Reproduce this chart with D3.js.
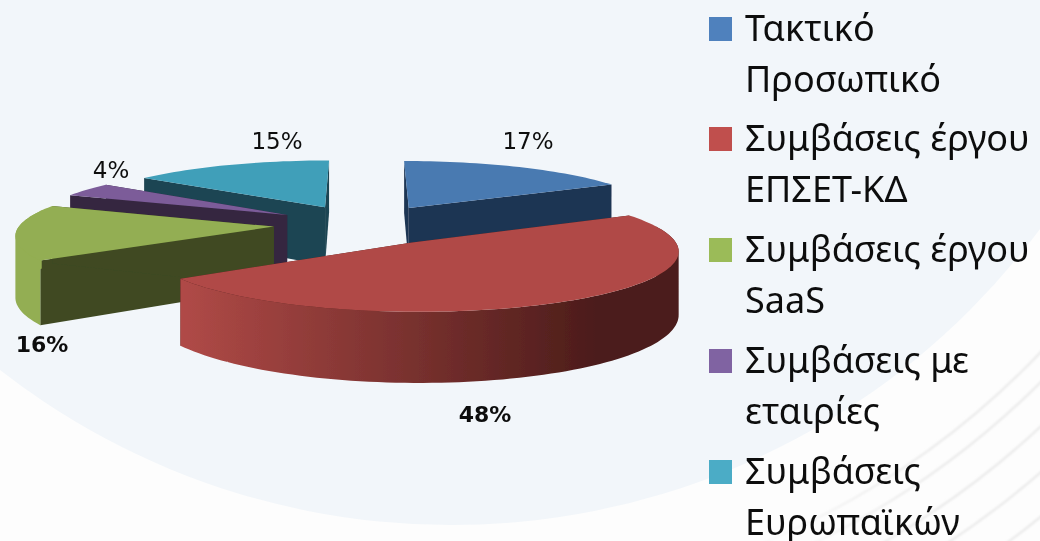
<!DOCTYPE html>
<html><head><meta charset="utf-8">
<script src="https://cdnjs.cloudflare.com/ajax/libs/d3/7.8.5/d3.min.js"></script>
<style>html,body{margin:0;padding:0;background:#fdfdfd;overflow:hidden}svg{display:block}</style>
</head><body><svg id="c" width="1040" height="541"></svg>
<script>
const legendLines = [["Τακτικό","Προσωπικό"],["Συμβάσεις έργου","ΕΠΣΕΤ-ΚΔ"],["Συμβάσεις έργου","SaaS"],["Συμβάσεις με","εταιρίες"],["Συμβάσεις","Ευρωπαϊκών"]];
const values = [17.2,48.4,15.6,4,14.8];
const topColors = ["#4a7ab1","#b04a47","#93ae52","#7b5c99","#419fb9"];
const wallColors = ["#1f3552","#4c1d1b","#3f4a22","#35263f","#1c4452"];
const legendColors = ["#4f81bd","#c0504d","#9bbb59","#8064a2","#4bacc6"];

const svg = d3.select("#c");
const defs = svg.append("defs");
defs.append("filter").attr("id","soft").append("feGaussianBlur").attr("stdDeviation",0.55);
defs.append("filter").attr("id","soft2").attr("filterUnits","userSpaceOnUse").attr("x",0).attr("y",0).attr("width",1040).attr("height",541).append("feGaussianBlur").attr("stdDeviation",0.9);
const g1 = defs.append("linearGradient").attr("id","redWall").attr("gradientUnits","userSpaceOnUse").attr("x1",180).attr("x2",600).attr("y1",0).attr("y2",0);
g1.append("stop").attr("offset",0).attr("stop-color","#b04a47");
g1.append("stop").attr("offset",1).attr("stop-color","#4b1c1a");
const g2 = defs.append("linearGradient").attr("id","stripe").attr("gradientUnits","userSpaceOnUse").attr("x1",720).attr("x2",940).attr("y1",0).attr("y2",0);
g2.append("stop").attr("offset",0).attr("stop-color","#e8e8e8").attr("stop-opacity",0);
g2.append("stop").attr("offset",1).attr("stop-color","#e8e8e8").attr("stop-opacity",1);

// backdrop
const bgC=[451,-209], bgR=734, stripeR=[814,835,867,901,935];
const st=svg.append("g").attr("filter","url(#soft2)");
stripeR.forEach(r=>st.append("circle").attr("cx",bgC[0]).attr("cy",bgC[1]).attr("r",r).attr("fill","none").attr("stroke","url(#stripe)").attr("stroke-width",2));
svg.append("circle").attr("cx",bgC[0]).attr("cy",bgC[1]).attr("r",bgR).attr("fill","#f2f6fa");

// perspective projection of the pie plane
const cx=364, cy=224.6, Rx=254, Ry=56.4, p=0.12, H=60, explode=0.355;
const proj=(X,Y,down)=>{const w=1+p*Y;return [cx+Rx*X/w, cy-Ry*Y/w+(down?H/w:0)];};
const line=d3.line();
const arcs=d3.pie().sort(null).value(d=>d)(values);
const slices=arcs.map((a,i)=>{
  const mid=(a.startAngle+a.endAngle)/2;
  const ox=explode*Math.sin(mid), oy=explode*Math.cos(mid);
  const n=Math.max(4,Math.round((a.endAngle-a.startAngle)/0.03));
  const ts=d3.range(n+1).map(k=>a.startAngle+(a.endAngle-a.startAngle)*k/n);
  const pts=ts.map(t=>[ox+Math.sin(t),oy+Math.cos(t)]);
  const front=ts.filter(t=>Math.cos(t)<=0.3).map(t=>[ox+Math.sin(t),oy+Math.cos(t)]);
  return {i,ox,oy,pts,front};
});
const order=[4,0,3,2,1];
const chart=svg.append("g").attr("filter","url(#soft)");
order.forEach(i=>{
  const s=slices[i], g=chart.append("g");
  const T=q=>proj(q[0],q[1],false), B=q=>proj(q[0],q[1],true);
  const apex=[s.ox,s.oy], first=s.pts[0], last=s.pts[s.pts.length-1];
  [first,last].forEach(e=>{
    g.append("path").attr("d",line([T(apex),T(e),B(e),B(apex)])+"Z").attr("fill",wallColors[i]);
  });
  if(i===1||i===2){
    const fill=i===1?"url(#redWall)":topColors[i];
    // outer wall: union of same-wound quads, swept between the top and bottom rims
    const d=d3.pairs(s.front).map(([a,b])=>{
      const q=[T(a),T(b),B(b),B(a)];
      if(d3.polygonArea(q)<0) q.reverse();
      return line(q)+"Z";
    }).join("");
    g.append("path").attr("d",d).attr("fill",fill).attr("fill-rule","nonzero");
  }
  g.append("path").attr("d",line([T(apex)].concat(s.pts.map(T)))+"Z").attr("fill",topColors[i]);
});

// data labels
const labelPos=[[528,149,0],[485,422,1],[42,352,1],[111,178,0],[277,149,0]];
const pct=d3.format(".0f");
const lab=svg.append("g").attr("filter","url(#soft)").attr("font-family","'DejaVu Sans'").attr("text-anchor","middle").attr("fill","#111");
values.forEach((v,i)=>{
  lab.append("text").attr("x",labelPos[i][0]).attr("y",labelPos[i][1]).attr("font-size",labelPos[i][2]?22:23).attr("font-weight",labelPos[i][2]?"bold":"normal").text(pct(v)+"%");
});

// legend
const legY=[41,151,262,373,484], lineGap=51;
const leg=svg.append("g").attr("filter","url(#soft)");
legendLines.forEach((ls,i)=>{
  leg.append("rect").attr("x",709).attr("y",legY[i]-24).attr("width",23).attr("height",24).attr("fill",legendColors[i]);
  ls.forEach((t,j)=>{
    leg.append("text").attr("x",745).attr("y",legY[i]+j*lineGap).attr("font-family","'Noto Sans'").attr("font-size",36).attr("fill","#111").text(t);
  });
});
</script></body></html>
